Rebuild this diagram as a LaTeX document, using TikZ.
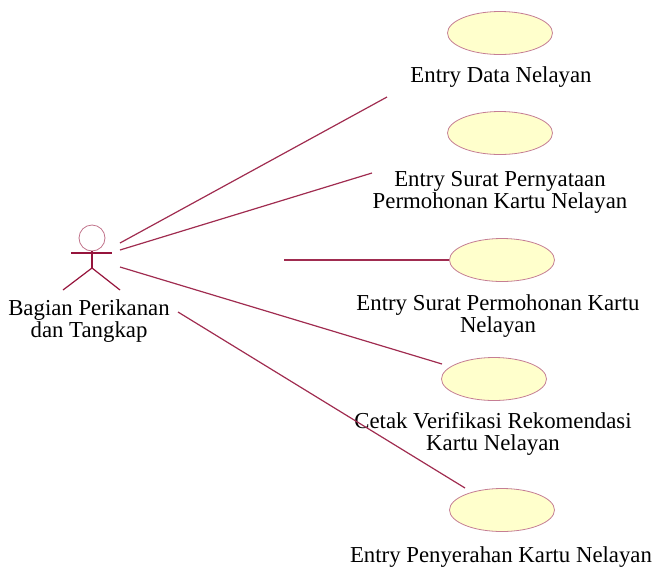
\documentclass[tikz,border=0pt]{standalone}
\usepackage{fontspec}
\setmainfont{Liberation Serif}
\usetikzlibrary{shapes.geometric}
\definecolor{bordeaux}{RGB}{150,20,60}
\definecolor{jaune}{RGB}{255,255,204}
\begin{document}
\begin{tikzpicture}[x=1pt, y=-1pt,
	usecase/.style={ellipse, draw=bordeaux!55, fill=jaune, line width=0.8pt, minimum width=105pt, minimum height=43pt, inner sep=0pt},
	texte/.style={align=center, inner sep=0pt, anchor=base, font=\fontsize{22.8}{22}\selectfont},
	acteur/.style={bordeaux, line width=1.2pt},
	lien/.style={bordeaux!90, line width=1.2pt}]
	\useasboundingbox (0,0) rectangle (654,566);

	% Acteur
	\draw[bordeaux!60, line width=0.8pt] (92,238) circle (13pt);
	\draw[acteur] (71,253) -- (112,253);
	\draw[acteur] (92,251) -- (92,268);
	\draw[acteur] (63,290) -- (92,268) -- (120,290);
	\node[texte] (acteur) at (89,337) {Bagian Perikanan\\dan Tangkap};

	% Cas d'utilisation
	\node[usecase] (uc1) at (500,33) {};
	\node[texte] (t1) at (501,82) {Entry Data Nelayan};
	\node[usecase] (uc2) at (500,133) {};
	\node[texte] (t2) at (500,208) {Entry Surat Pernyataan\\Permohonan Kartu Nelayan};
	\node[usecase] (uc3) at (502,260) {};
	\node[texte] (t3) at (498,332) {Entry Surat Permohonan Kartu\\Nelayan};
	\node[usecase] (uc4) at (494,379) {};
	\node[texte] (t4) at (493,450) {Cetak Verifikasi Rekomendasi\\Kartu Nelayan};
	\node[usecase] (uc5) at (502,510) {};
	\node[texte] (t5) at (501,562) {Entry Penyerahan Kartu Nelayan};

	% Extremites des liens
	\coordinate (a1) at (120,243);
	\coordinate (a2) at (120,250);
	\coordinate (a3) at (284,260);
	\coordinate (a4) at (120,267);
	\coordinate (a5) at (178,312);
	\coordinate (b1) at (387,97);
	\coordinate (b2) at (372,173);
	\coordinate (b4) at (442,364);
	\coordinate (b5) at (465,488);

	% Liens
	\foreach \a/\b in {a1/b1, a2/b2, a3/uc3.west, a4/b4, a5/b5} {
		\draw[lien] (\a) -- (\b);
	}
\end{tikzpicture}
\end{document}
